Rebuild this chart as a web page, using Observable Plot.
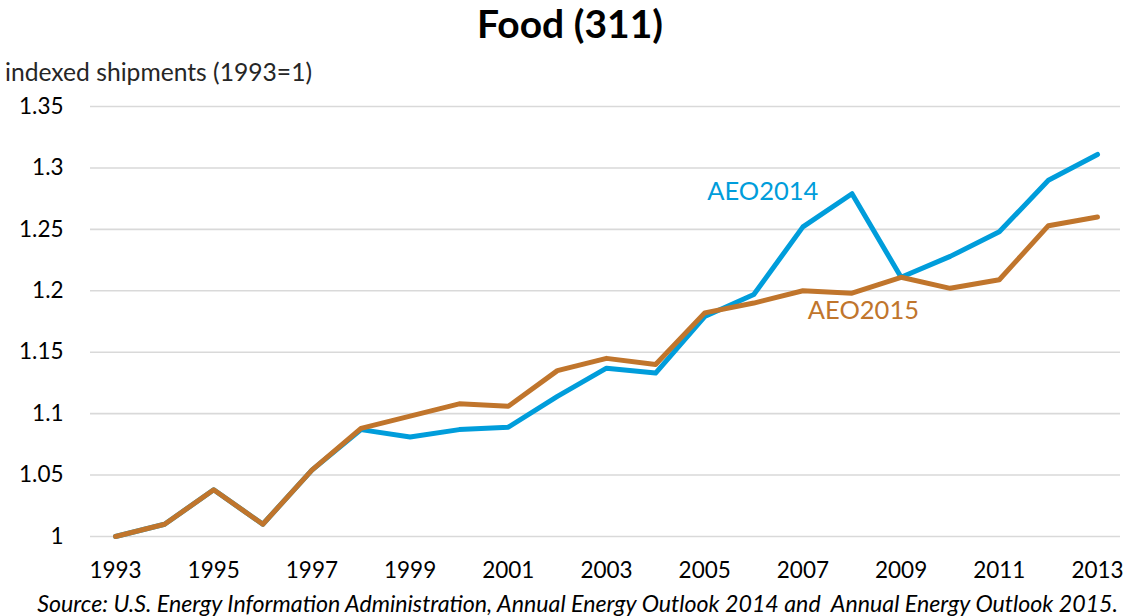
<!DOCTYPE html>
<html>
<head>
<meta charset="utf-8">
<script src="https://cdn.jsdelivr.net/npm/d3@7"></script>
<script src="https://cdn.jsdelivr.net/npm/@observablehq/plot@0.6"></script>
<style>
  html, body { margin: 0; padding: 0; background: #fff; }
  #wrap { position: relative; width: 1124px; height: 616px; overflow: hidden; font-family: Lato, "Open Sans", sans-serif; color: #000; background: #fff; }
  #chart { position: absolute; left: 0; top: 48px; z-index: 1; }
  #title { position: absolute; top: 0; left: 0; width: 1140px; text-align: center; font-weight: bold; font-size: 38px; line-height: 46px; z-index: 2; }
  #ylabel { position: absolute; left: 5px; top: 59px; font-size: 20px; line-height: 26px; color: #262626; z-index: 2; white-space: nowrap; }
  #caption { position: absolute; right: 6px; top: 589px; font-style: italic; font-size: 23px; line-height: 28px; white-space: pre; z-index: 2; }
</style>
</head>
<body>
<div id="wrap">
  <div id="chart"></div>
  <div id="title"></div>
  <div id="ylabel"></div>
  <div id="caption"></div>
</div>
<script>
const titleText = "Food (311)";
const yLabelText = "indexed shipments (1993=1)";
const captionText = "Source: U.S. Energy Information Administration, Annual Energy Outlook 2014 and  Annual Energy Outlook 2015.";

const years = [1993,1994,1995,1996,1997,1998,1999,2000,2001,2002,2003,2004,2005,2006,2007,2008,2009,2010,2011,2012,2013];
const aeo2014 = [1.000,1.010,1.038,1.010,1.054,1.087,1.081,1.087,1.089,1.114,1.137,1.133,1.179,1.197,1.252,1.279,1.211,1.228,1.248,1.290,1.311];
const aeo2015 = [1.000,1.010,1.038,1.010,1.054,1.088,1.098,1.108,1.106,1.135,1.145,1.140,1.182,1.190,1.200,1.198,1.211,1.202,1.209,1.253,1.260];

const seriesNames = ["AEO2014", "AEO2015"];
const seriesColors = ["#009DDB", "#C0752C"];
// label anchor positions (data units) for the inline series labels
const labelYears = [2005.05, 2007.1];
const labelValues = [1.2805, 1.184];

const xTicks = [1993,1995,1997,1999,2001,2003,2005,2007,2009,2011,2013];
const yTicks = [1, 1.05, 1.1, 1.15, 1.2, 1.25, 1.3, 1.35];

// target text widths in the reference picture (px)
function fitWidth(el, target) {
  const w = el.getBoundingClientRect().width;
  const fs = parseFloat(getComputedStyle(el).fontSize);
  if (w > 0) el.style.fontSize = (fs * target / w).toFixed(2) + "px";
}

const titleEl = document.getElementById("title");
const ylabelEl = document.getElementById("ylabel");
const captionEl = document.getElementById("caption");
titleEl.innerHTML = "<span>" + titleText + "</span>";
ylabelEl.textContent = yLabelText;
captionEl.textContent = captionText;

const rows = [];
years.forEach((yr, i) => rows.push({year: yr, value: aeo2014[i], series: seriesNames[0]}));
years.forEach((yr, i) => rows.push({year: yr, value: aeo2015[i], series: seriesNames[1]}));
const labels = seriesNames.map((s, i) => ({series: s, year: labelYears[i], value: labelValues[i]}));

const chart = Plot.plot({
  width: 1124,
  height: 545,
  marginTop: 58,
  marginBottom: 57,
  marginLeft: 90,
  marginRight: 4,
  style: {fontFamily: "Lato, 'Open Sans', sans-serif", fontSize: "22.5px", color: "#000", background: "transparent"},
  x: {domain: [1993, 2013], insetLeft: 25, insetRight: 23, label: null},
  y: {domain: [1, 1.35], label: null},
  color: {domain: seriesNames, range: seriesColors},
  marks: [
    Plot.gridY(yTicks, {stroke: "#d9d9d9", strokeOpacity: 1, strokeWidth: 1.6}),
    Plot.axisY(yTicks, {tickSize: 0, tickPadding: 27, tickFormat: d => String(+d.toFixed(2)), fontSize: 22.5, label: null}),
    Plot.axisX(xTicks, {tickSize: 0, tickPadding: 26, tickFormat: d => String(d), fontSize: 22.5, label: null}),
    Plot.lineY(rows, {x: "year", y: "value", z: "series", stroke: "series", strokeWidth: 5, strokeLinejoin: "round", strokeLinecap: "round"}),
    Plot.text(labels, {x: "year", y: "value", text: "series", fill: "series", textAnchor: "start", fontSize: 25.5})
  ]
});
document.getElementById("chart").appendChild(chart);

function fitAll() {
  fitWidth(titleEl.firstChild, 186);
  fitWidth(ylabelEl, 307);
  fitWidth(captionEl, 1081);
}
if (document.fonts && document.fonts.ready) {
  fitAll();
  document.fonts.ready.then(fitAll);
} else {
  fitAll();
}
</script>
</body>
</html>
